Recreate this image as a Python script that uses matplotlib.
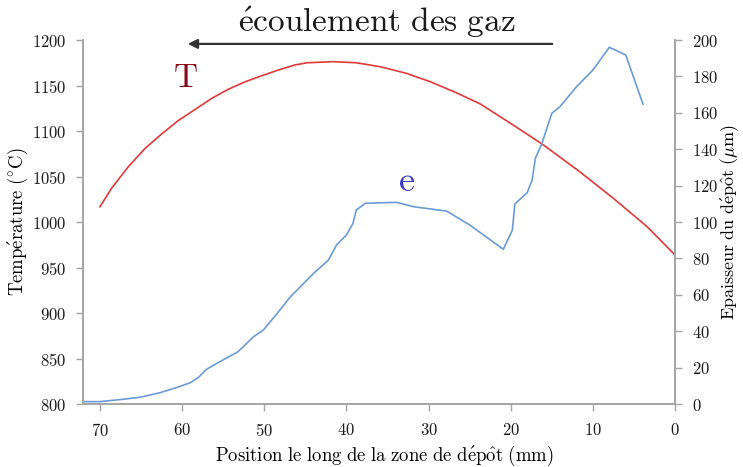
import matplotlib
matplotlib.use("Agg")
import matplotlib.pyplot as plt

# Temperature profile along the deposition zone (°C)
pos_T = [70, 68.6, 66.55, 64.5, 62.5, 60.5, 58.4, 56.4, 54.4, 52.3, 50.3,
         48.3, 46.3, 44.8, 41.6, 38.8, 35.9, 32.7, 29.8, 26.6, 23.7,
         19.7, 16.0, 11.6, 7.5, 3.4, 0]
temp = [1016.8, 1037, 1060.8, 1081, 1096.7, 1111.3, 1123.8, 1135.9, 1145.8,
        1154.2, 1160.8, 1167, 1172.5, 1175, 1176.2, 1175, 1170.7, 1163.4,
        1154.2, 1142, 1129.7, 1106.6, 1084.6, 1055.3, 1026, 994.9, 963.7]

# Deposit thickness (µm)
pos_e = [72.0, 70, 67.2, 65.1, 62.7, 60.7, 59.0, 58.0, 57.05, 55.4, 53.2,
         51.3, 50.1, 48.1, 46.9, 44.0, 42.2, 41.2, 40.0, 39.2, 38.8, 37.7,
         33.9, 31.8, 27.8, 25.0, 20.9, 19.8, 19.5, 18.0, 17.4, 17.0, 16.2,
         15.0, 14.0, 12.0, 10.0, 8.0, 6.0, 3.9]
thick = [1.3, 1.3, 2.6, 3.7, 6.2, 9, 11.7, 14.7, 19, 23.3, 28.7,
         37, 40.7, 51.6, 58.5, 71.8, 79, 87.4, 92.9, 99.3, 106.6, 110.3,
         110.8, 108.4, 106, 98.4, 85, 95.6, 109.9, 116.1, 123, 135, 143.2,
         159.7, 163.4, 174.3, 183.5, 196, 191.8, 164.8]

plt.rcParams['font.family'] = ['cmr10', 'DejaVu Serif']
plt.rcParams['mathtext.fontset'] = 'cm'
plt.rcParams['axes.formatter.use_mathtext'] = True

fig = plt.figure(figsize=(7.43, 4.67), dpi=100)
ax = fig.add_axes([0.1117, 0.1349, 0.7968, 0.7794])
ax2 = ax.twinx()

spine_col = '#a6a6a6'
for a in (ax, ax2):
    a.spines['top'].set_visible(False)
    for s in ('left', 'right', 'bottom'):
        a.spines[s].set_color(spine_col)
        a.spines[s].set_linewidth(1.3)
    a.tick_params(colors=spine_col, labelcolor='#1a1a1a', labelsize=12,
                  length=5, width=1.0, direction='out')

ax.plot(pos_T, temp, color='#e03a3a', lw=1.2)
ax2.plot(pos_e, thick, color='#6b9bd6', lw=1.2)

ax.set_xlim(72.07, 0)
ax.set_ylim(800, 1200)
ax2.set_ylim(0, 200)
ax.set_xticks(range(70, -1, -10))
ax.set_yticks(range(800, 1201, 50))
ax2.set_yticks(range(0, 201, 20))
ax.tick_params(axis='x', pad=8)
ax.tick_params(axis='y', pad=7)
ax2.tick_params(axis='y', pad=7)

lab_size = 13.5
ax.set_xlabel(r'$\mathrm{Position\ le\ long\ de\ la\ zone\ de\ d\acute{e}p\hat{o}t\ (mm)}$',
              fontsize=lab_size, va='center')
ax.set_ylabel(r'$\mathrm{Temp\acute{e}rature\ (^{\circ}C)}$', fontsize=lab_size,
              va='center')
ax2.set_ylabel(r'$\mathrm{Epaisseur\ du\ d\acute{e}p\hat{o}t\ (\mu m)}$',
               fontsize=13, va='center')
ax.xaxis.set_label_coords(0.51, -0.143)
ax.yaxis.set_label_coords(-0.11, 0.5)
ax2.yaxis.set_label_coords(1.092, 0.5)

ax.text(59.5, 1158, 'T', color='#8b0a1a', fontsize=24, ha='center', va='center')
ax2.text(32.6, 122, 'e', color='#3a3ac8', fontsize=26, ha='center', va='center')

fig.text(0.507, 0.953, r'$\mathrm{\acute{e}coulement\ des\ gaz}$', fontsize=24,
         ha='center', va='center', color='#1a1a1a')
ax.annotate('', xy=(0.249, 0.906), xytext=(0.747, 0.906),
            xycoords='figure fraction', textcoords='figure fraction',
            arrowprops=dict(arrowstyle='-|>', color='#333333', lw=1.6,
                            mutation_scale=14), annotation_clip=False)

fig.savefig('out.png', dpi=100)
